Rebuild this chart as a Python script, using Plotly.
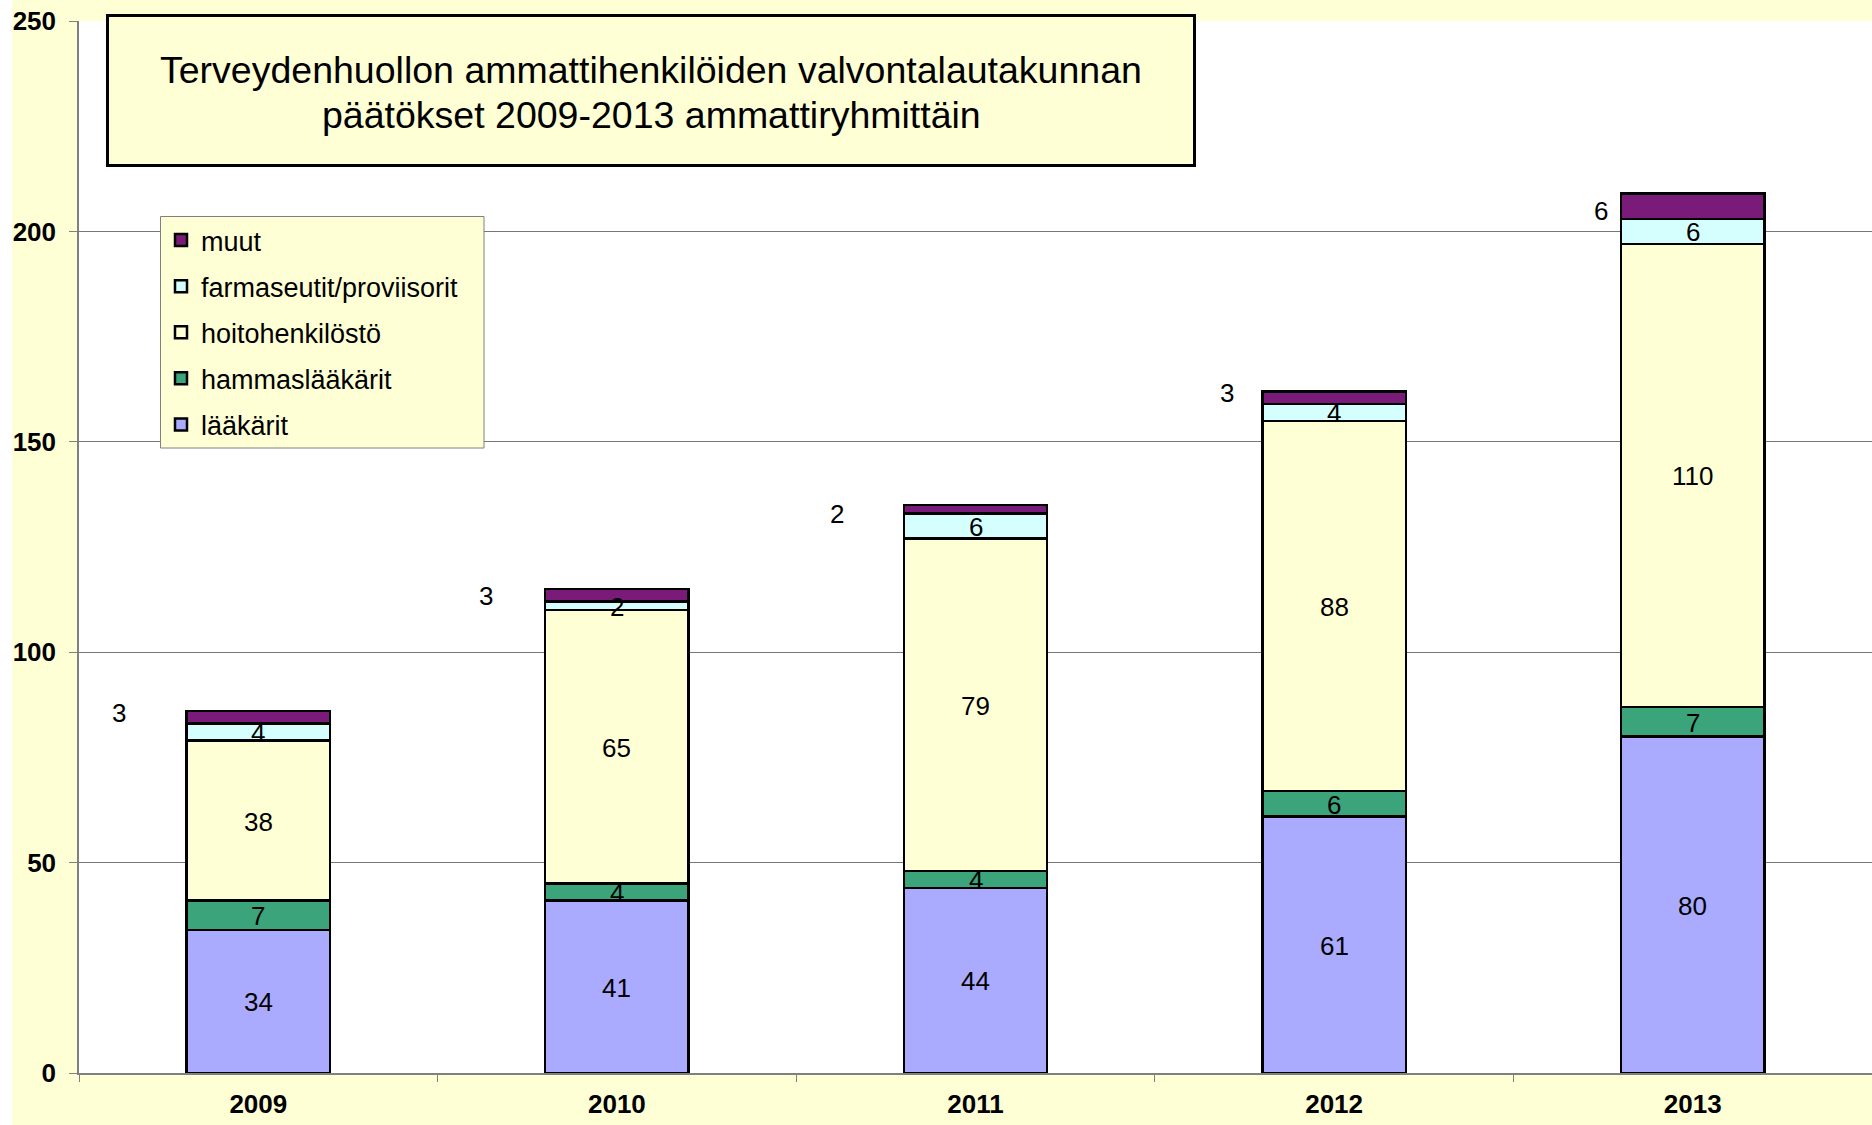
import plotly.graph_objects as go

years = ["2009", "2010", "2011", "2012", "2013"]
laakarit = [34, 41, 44, 61, 80]
hammaslaakarit = [7, 4, 4, 6, 7]
hoitohenkilosto = [38, 65, 79, 88, 110]
farmaseutit = [4, 2, 6, 4, 6]
muut = [3, 3, 2, 3, 6]

series_names = ["lääkärit", "hammaslääkärit", "hoitohenkilöstö",
                "farmaseutit/proviisorit", "muut"]
series_values = [laakarit, hammaslaakarit, hoitohenkilosto, farmaseutit, muut]
series_colors = ["#AAAAFF", "#3BA47B", "#FFFFD5", "#D5FFFF", "#7A1B7A"]

title_lines = ["Terveydenhuollon ammattihenkilöiden valvontalautakunnan",
               "päätökset 2009-2013 ammattiryhmittäin"]

# pixel offsets for the "muut" labels (placed left of the bars)
muut_dx = [-139, -131, -139, -107, -92]
muut_dy = [4, -1, -5, 5, -5]

FONT = "Liberation Sans, Arial, sans-serif"
YELLOW = "#FFFFD5"

W, H = 1872, 1125
ML, MR, MT, MB = 79, 0, 21, 52
PW = W - ML - MR
PH = H - MT - MB


def px_x(px):
    return (px - ML) / PW


def px_y(py):
    return 1 - (py - MT) / PH


fig = go.Figure()
n = len(series_names)
for si, (name, vals, col) in enumerate(zip(series_names, series_values, series_colors)):
    fig.add_trace(go.Bar(
        x=years, y=vals, name=name, legendgroup=name, legendrank=n - si,
        marker=dict(color=col, line=dict(color="black", width=2.5)),
        width=0.4, hoverinfo="skip",
    ))

annotations = []
base = [0] * len(years)
for si, vals in enumerate(series_values):
    for i in range(len(years)):
        mid = base[i] + vals[i] / 2
        is_muut = si == len(series_values) - 1
        annotations.append(dict(
            x=i, y=mid, xref="x", yref="y", text=str(vals[i]),
            showarrow=False,
            xshift=muut_dx[i] if is_muut else 0,
            yshift=muut_dy[i] if is_muut else -1,
            font=dict(family=FONT, size=26, color="black")))
        base[i] += vals[i]

# Title text lines
for k, (line, cy) in enumerate(zip(title_lines, [70, 115])):
    annotations.append(dict(
        xref="paper", yref="paper", x=px_x(651), y=px_y(cy),
        xanchor="center", yanchor="middle", text=line, showarrow=False,
        font=dict(family=FONT, size=37.5, color="black"),
    ))

shapes = [
    dict(type="rect", xref="paper", yref="paper", layer="below",
         x0=-ML / PW, x1=px_x(12), y0=px_y(H + 5), y1=px_y(-5),
         fillcolor="white", line=dict(width=0)),
    # title box
    dict(type="rect", xref="paper", yref="paper", layer="above",
         x0=px_x(107.5), x1=px_x(1194.5), y0=px_y(165.5), y1=px_y(15.5),
         fillcolor=YELLOW, line=dict(color="black", width=3)),
    # legend box
    dict(type="rect", xref="paper", yref="paper", layer="above",
         x0=px_x(160.5), x1=px_x(484), y0=px_y(448), y1=px_y(216.5),
         fillcolor=YELLOW, line=dict(color="#808080", width=1)),
]

fig.update_layout(
    width=W, height=H,
    margin=dict(l=ML, r=MR, t=MT, b=MB, pad=0),
    barmode="stack",
    paper_bgcolor=YELLOW,
    plot_bgcolor="white",
    font=dict(family=FONT, color="black"),
    showlegend=True,
    legend=dict(
        x=px_x(161), y=px_y(216),
        xanchor="left", yanchor="top",
        bgcolor="rgba(0,0,0,0)", borderwidth=0,
        font=dict(family=FONT, size=27, color="black"),
        traceorder="grouped", tracegroupgap=8,
    ),
    xaxis=dict(
        type="category", range=[-0.5, 4.5],
        tickson="boundaries", ticks="outside", ticklen=7, tickcolor="#808080",
        showline=True, linecolor="#808080", linewidth=1.5,
        showgrid=False,
        tickfont=dict(family=FONT, size=26, color="black", weight="bold"),
        ticklabelstandoff=7,
    ),
    yaxis=dict(
        range=[0, 250], dtick=50, tick0=0,
        ticks="outside", ticklen=8, tickcolor="#808080",
        showline=True, linecolor="#808080", linewidth=1.5,
        showgrid=True, gridcolor="#777777", gridwidth=1,
        zeroline=False,
        tickfont=dict(family=FONT, size=26, color="black", weight="bold"),
        ticklabelstandoff=8,
    ),
    annotations=annotations,
    shapes=shapes,
)

fig.write_html("out.html", config={"displayModeBar": False},
               post_script="document.body.style.margin='0';")
